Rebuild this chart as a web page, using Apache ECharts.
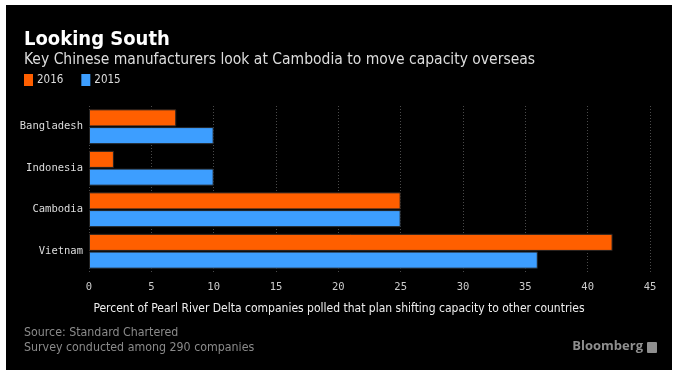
<!DOCTYPE html>
<html><head><meta charset="utf-8">
<script src="https://cdn.jsdelivr.net/npm/echarts@6/dist/echarts.min.js"></script>
<style>
html,body{margin:0;padding:0;background:#fff;width:679px;height:378px;overflow:hidden}
#frame{position:absolute;left:6px;top:5px;width:666px;height:365px;background:#000}
#c{width:666px;height:365px}
</style></head><body>
<div id="frame"><div id="c"></div></div>
<script>
const categories = ['Vietnam', 'Cambodia', 'Indonesia', 'Bangladesh'];
const values2016 = [42, 25, 2, 7];
const values2015 = [36, 25, 10, 10];
const xTicks = [0, 5, 10, 15, 20, 25, 30, 35, 40, 45];

const chart = echarts.init(document.getElementById('c'), null, {renderer: 'canvas'});
const mono = '"DejaVu Sans Mono", monospace';
const cond = '"DejaVu Sans Condensed", "DejaVu Sans", sans-serif';
chart.setOption({
  backgroundColor: '#000',
  animation: false,
  title: [
    {text: 'Looking South', left: 13, top: 20, textStyle: {color: '#fff', fontFamily: cond, fontWeight: 'bold', fontSize: 20}},
    {text: 'Key Chinese manufacturers look at Cambodia to move capacity overseas', left: 13, top: 42, textStyle: {color: '#ddd', fontFamily: cond, fontWeight: 'normal', fontSize: 15.5}}
  ],
  legend: {
    left: 13, top: 64, itemWidth: 9, itemHeight: 12, itemGap: 18,
    icon: 'rect',
    itemStyle: {borderWidth: 0},
    textStyle: {color: '#ddd', fontFamily: cond, fontSize: 11.5, padding: [0,0,0,-1]},
    data: ['2016', '2015']
  },
  grid: {left: 83, right: 22, top: 101, bottom: 98},
  xAxis: {
    type: 'value', min: 0, max: 45, interval: 5,
    axisLine: {show: false}, axisTick: {show: false},
    axisLabel: {color: '#ccc', fontFamily: mono, fontSize: 10.5, margin: 10,
      formatter: v => xTicks.includes(v) ? String(v) : ''},
    splitLine: {show: true, lineStyle: {color: '#4a4a4a', type: [1, 2], width: 1}}
  },
  yAxis: {
    type: 'category', data: categories,
    axisLine: {show: false}, axisTick: {show: false},
    axisLabel: {color: '#ddd', fontFamily: mono, fontSize: 10.5, margin: 6}
  },
  series: [
    {name: '2016', type: 'bar', data: values2016, barGap: '4%', barCategoryGap: '16%',
      itemStyle: {color: '#ff5f00', borderColor: '#222', borderWidth: 1}},
    {name: '2015', type: 'bar', data: values2015,
      itemStyle: {color: '#3d9eff', borderColor: '#222', borderWidth: 1}}
  ],
  graphic: [
    {type: 'text', left: 'center', top: 298, style: {text: 'Percent of Pearl River Delta companies polled that plan shifting capacity to other countries', fill: '#eee', font: '12px ' + cond}},
    {type: 'text', left: 18, top: 320, style: {text: 'Source: Standard Chartered\nSurvey conducted among 290 companies', fill: '#8a8a8a', font: '12.3px ' + cond, lineHeight: 15}},
    {type: 'text', right: 29, top: 335, style: {text: 'Bloomberg', fill: '#8f8f8f', font: 'bold 13px "Open Sans", sans-serif'}},
    {type: 'rect', right: 15, top: 337, shape: {width: 10, height: 11, r: 1}, style: {fill: '#8f8f8f'}}
  ]
});
</script></body></html>
